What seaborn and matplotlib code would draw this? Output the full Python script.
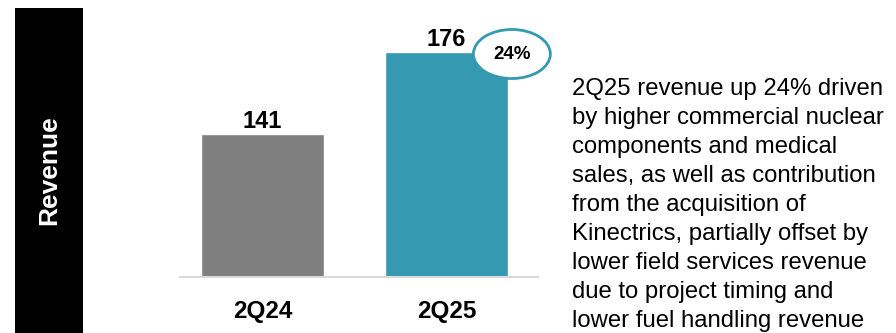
import matplotlib
matplotlib.use("Agg")
import matplotlib.pyplot as plt
from matplotlib.patches import Ellipse, Rectangle
import seaborn as sns
import pandas as pd

# Quarterly revenue
periods = ["2Q24", "2Q25"]
revenue = [141, 176]
bar_colors = ["#7f7f7f", "#3699b2"]
growth_label = "24%"
section_title = "Revenue"
commentary = [
    "2Q25 revenue up 24% driven",
    "by higher commercial nuclear",
    "components and medical",
    "sales, as well as contribution",
    "from the acquisition of",
    "Kinectrics, partially offset by",
    "lower field services revenue",
    "due to project timing and",
    "lower fuel handling revenue",
]

sns.set_theme(style="white")
plt.rcParams["font.family"] = ["Liberation Sans", "DejaVu Sans"]

W, H = 896, 333
fig = plt.figure(figsize=(W / 100, H / 100), dpi=100)

# Black side band with the section title
fig.patches.append(Rectangle((15 / W, 0), 68 / W, 325 / H, transform=fig.transFigure,
                             facecolor="black", edgecolor="none", zorder=0))
fig.text(49 / W, 1 - 170 / H, section_title, rotation=90, color="white",
         fontsize=19, fontweight="bold", ha="center", va="center")

# Bar chart area
ax = fig.add_axes([180 / W, 56 / H, 358 / W, 277 / H])
df = pd.DataFrame({"period": periods, "revenue": revenue})
sns.barplot(data=df, x="period", y="revenue", hue="period", palette=bar_colors,
            legend=False, width=0.668, saturation=1, ax=ax)
ax.set_xlim(-0.448, 1.497)
ax.set_ylim(80, 198.2)

for i, v in enumerate(revenue):
    ax.annotate(f"{v}", (i, v), xytext=(0, 0.5), textcoords="offset points",
                ha="center", va="bottom", fontsize=17, fontweight="bold", color="black")

ax.set_xlabel("")
ax.set_ylabel("")
ax.set_yticks([])
ax.tick_params(axis="x", length=0, pad=16.5, labelsize=17.5, labelcolor="black")
for lab in ax.get_xticklabels():
    lab.set_fontweight("bold")
for side in ["top", "right", "left"]:
    ax.spines[side].set_visible(False)
ax.spines["bottom"].set_color("#d9d9d9")
ax.spines["bottom"].set_linewidth(1.5)

# Growth bubble
ell = Ellipse((0.927, 0.805), 0.215, 0.177, transform=ax.transAxes,
              facecolor="white", edgecolor="#3699b2", linewidth=2, clip_on=False, zorder=5)
ax.add_patch(ell)
ax.text(0.927, 0.805, growth_label, transform=ax.transAxes, ha="center", va="center",
        fontsize=13.5, fontweight="bold", color="black", zorder=6)

# Commentary
for i, line in enumerate(commentary):
    fig.text(572 / W, 1 - (95 + i * 29) / H, line, ha="left", va="baseline",
             fontsize=17.2, color="black")

fig.savefig("out.png", dpi=100)
